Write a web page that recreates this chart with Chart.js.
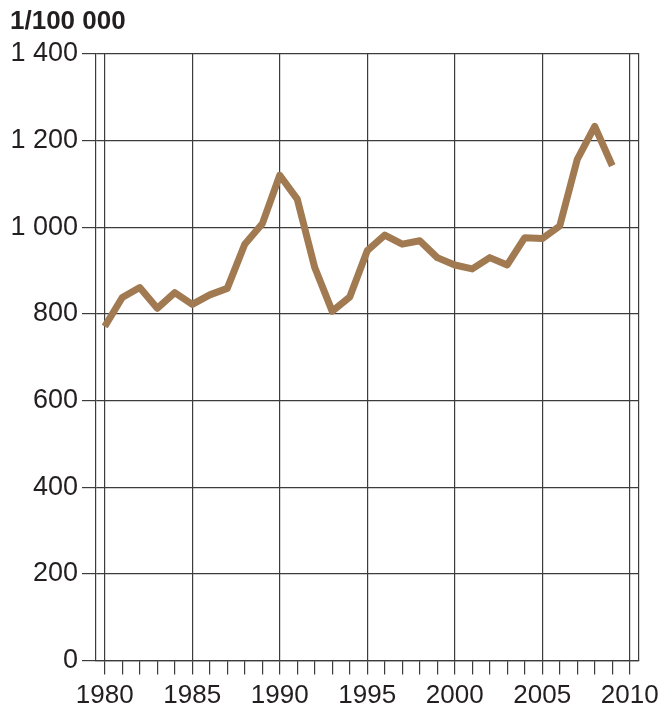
<!DOCTYPE html>
<html>
<head>
<meta charset="utf-8">
<script src="https://cdn.jsdelivr.net/npm/chart.js@4"></script>
<style>
  html, body { margin: 0; padding: 0; background: #ffffff; }
  #wrap { width: 661px; height: 709px; position: relative; }
</style>
</head>
<body>
<div id="wrap"><canvas id="c" width="661" height="709"></canvas></div>
<script>
const titleText = '1/100 000';
const years = [1980, 1981, 1982, 1983, 1984, 1985, 1986, 1987, 1988, 1989,
               1990, 1991, 1992, 1993, 1994, 1995, 1996, 1997, 1998, 1999,
               2000, 2001, 2002, 2003, 2004, 2005, 2006, 2007, 2008, 2009];
const rates = [771, 838, 861, 813, 849, 822, 844, 859, 961, 1008,
               1120, 1065, 907, 806, 839, 946, 982, 961, 969, 930,
               913, 904, 930, 913, 976, 974, 1003, 1157, 1233, 1142];
const xTickYears = [1980, 1981, 1982, 1983, 1984, 1985, 1986, 1987, 1988, 1989,
                    1990, 1991, 1992, 1993, 1994, 1995, 1996, 1997, 1998, 1999,
                    2000, 2001, 2002, 2003, 2004, 2005, 2006, 2007, 2008, 2009, 2010];
const yTicks = [0, 200, 400, 600, 800, 1000, 1200, 1400];

const lineColor = 'rgb(161,122,82)';
const gridColor = '#3c3c3c';
const textColor = '#231f20';
const fontFamily = '"Liberation Sans", Arial, Helvetica, sans-serif';

function fmt(v) {
  const s = String(v);
  if (v >= 1000) return s.slice(0, s.length - 3) + ' ' + s.slice(-3);
  return s;
}

new Chart(document.getElementById('c'), {
  type: 'line',
  data: {
    datasets: [{
      data: years.map((y, i) => ({ x: y, y: rates[i] })),
      borderColor: lineColor,
      borderWidth: 7,
      pointRadius: 0,
      tension: 0,
      borderJoinStyle: 'round',
      borderCapStyle: 'butt',
      fill: false
    }]
  },
  options: {
    responsive: false,
    animation: false,
    layout: { padding: { left: 10, right: 22.5, top: 0, bottom: 0 } },
    plugins: {
      legend: { display: false },
      tooltip: { enabled: false },
      title: {
        display: true,
        text: titleText,
        align: 'start',
        color: textColor,
        font: { family: fontFamily, size: 26, weight: 'bold', lineHeight: 1.2 },
        padding: { top: 6.5, bottom: 16.3 }
      }
    },
    scales: {
      x: {
        type: 'linear',
        position: 'bottom',
        min: 1979.5,
        max: 2010.5,
        afterBuildTicks: (s) => { s.ticks = xTickYears.map(v => ({ value: v })); },
        afterFit: (s) => { s.height = 48.5; s.paddingLeft = 0; s.paddingRight = 0; },
        grid: {
          color: (ctx) => (ctx.tick && ctx.tick.value % 5 === 0) ? gridColor : 'rgba(0,0,0,0)',
          tickColor: gridColor,
          lineWidth: 1.2,
          tickLength: 14,
          drawOnChartArea: true,
          drawTicks: true
        },
        border: { display: true, color: gridColor, width: 1.2 },
        ticks: {
          autoSkip: false,
          maxRotation: 0,
          minRotation: 0,
          padding: 6,
          color: textColor,
          font: { family: fontFamily, size: 26 },
          callback: (v) => (v % 5 === 0 ? String(v) : '')
        }
      },
      y: {
        min: 0,
        max: 1400,
        afterBuildTicks: (s) => { s.ticks = yTicks.map(v => ({ value: v })); },
        afterFit: (s) => { s.width = 86; s.paddingTop = 0; s.paddingBottom = 0; },
        grid: {
          color: gridColor,
          lineWidth: 1.2,
          tickLength: 14,
          drawTicks: true
        },
        border: { display: true, color: gridColor, width: 1.2 },
        ticks: {
          padding: 4,
          color: textColor,
          font: { family: fontFamily, size: 27 },
          callback: (v) => fmt(v)
        }
      },
      y2: {
        position: 'right',
        min: 0,
        max: 1400,
        afterFit: (s) => { s.width = 0; s.paddingTop = 0; s.paddingBottom = 0; },
        grid: { display: true, drawOnChartArea: false, drawTicks: false, color: gridColor },
        border: { display: true, color: gridColor, width: 1.2 },
        ticks: { display: false }
      }
    }
  }
});
</script>
</body>
</html>
